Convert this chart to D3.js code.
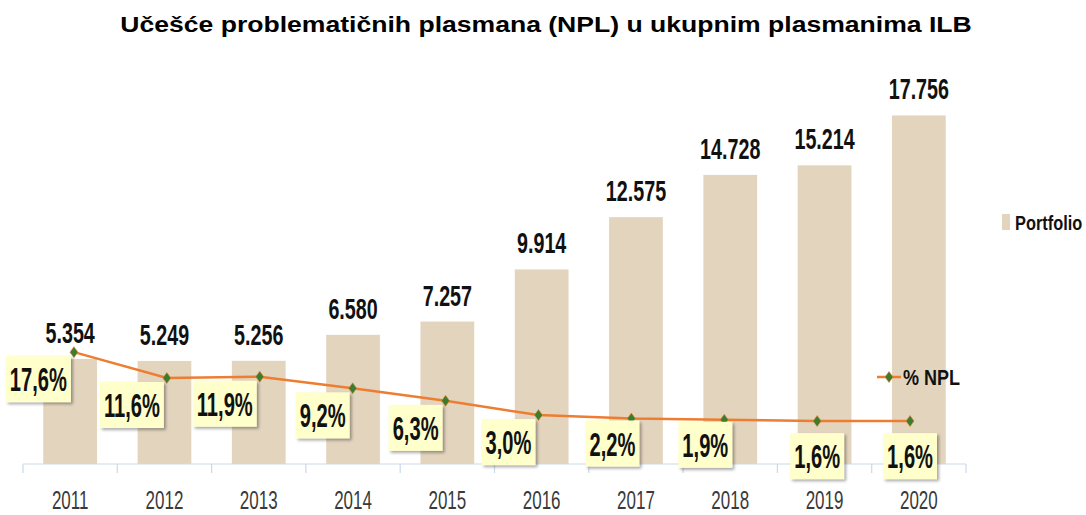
<!DOCTYPE html>
<html>
<head>
<meta charset="utf-8">
<script src="https://cdn.jsdelivr.net/npm/d3@7"></script>
<style>
  body { margin: 0; background: #fff; }
  text { font-family: "Liberation Sans", Arial, sans-serif; }
</style>
</head>
<body>
<div id="chart"></div>
<script>
// Chart data
const years = ["2011", "2012", "2013", "2014", "2015", "2016", "2017", "2018", "2019", "2020"];
const portfolio = [5354, 5249, 5256, 6580, 7257, 9914, 12575, 14728, 15214, 17756];
const nplPct = [17.6, 11.6, 11.9, 9.2, 6.3, 3.0, 2.2, 1.9, 1.6, 1.6];
// where each % label box sits relative to its point
const labelPlacement = ["left", "left", "left", "left", "left", "left", "belowLeft", "belowLeft", "below", "below"];

const width = 1086, height = 515;
const barColor = "#e3d4be", lineColor = "#ed7d31", markerColor = "#3c7d2d";

// Serbian style numbers: 5.354 and 17,6%
const locale = d3.formatLocale({ decimal: ",", thousands: ".", grouping: [3], currency: ["", ""] });
const fmtValue = locale.format(",");
const fmtPct = locale.format(".1f");

const svg = d3.select("#chart")
    .append("svg")
    .attr("width", width)
    .attr("height", height);

const defs = svg.append("defs");
const shadow = defs.append("filter").attr("id", "shadow")
    .attr("x", "-20%").attr("y", "-20%").attr("width", "150%").attr("height", "150%");
shadow.append("feDropShadow")
    .attr("dx", 2).attr("dy", 2).attr("stdDeviation", 1.5)
    .attr("flood-color", "#000").attr("flood-opacity", 0.35);

// draw text squeezed horizontally (the original font is a condensed one)
function condensedText(sel, sx) {
    sel.each(function() {
        const t = d3.select(this);
        const px = +t.attr("data-x"), py = +t.attr("data-y");
        t.attr("transform", `translate(${px},${py}) scale(${sx},1)`);
    });
}

// Title, stretched to the width it has in the original
const title = svg.append("text")
    .attr("text-anchor", "middle")
    .attr("font-size", 22)
    .attr("font-weight", "bold")
    .text("Učešće problematičnih plasmana (NPL) u ukupnim plasmanima ILB");
const titleScale = 852 / title.node().getComputedTextLength();
title.attr("transform", `translate(546,31.5) scale(${titleScale},1)`);

// Scales
const x = d3.scaleBand()
    .domain(years)
    .range([23, 966])
    .paddingInner(0.43)
    .paddingOuter(0.215);

// the % line sits on its own (secondary) axis in the original
const xLine = d3.scaleBand()
    .domain(years)
    .range([27.5, 956.5]);

const y = d3.scaleLinear()
    .domain([0, 20000])
    .range([464, 71.4]);

const yPct = d3.scaleLinear()
    .domain([0, 20])
    .range([428, 341.8]);

const data = years.map((yr, i) => ({
    year: yr,
    value: portfolio[i],
    pct: nplPct[i],
    place: labelPlacement[i]
}));

// Bars
svg.selectAll(".bar")
    .data(data)
    .join("rect")
    .attr("class", "bar")
    .attr("x", d => x(d.year))
    .attr("y", d => y(d.value))
    .attr("width", x.bandwidth())
    .attr("height", d => y(0) - y(d.value))
    .attr("fill", barColor);

// Category axis
const step = x.step();
const axisG = svg.append("g").attr("class", "x-axis");
const edges = years.map(yr => x(yr) - step * x.paddingInner() / 2).concat([x.range()[1]]);
axisG.append("line")
    .attr("x1", x.range()[0]).attr("x2", x.range()[1])
    .attr("y1", y(0)).attr("y2", y(0))
    .attr("stroke", "#cbd9ea").attr("stroke-width", 1.2);
axisG.selectAll(".tick")
    .data(edges)
    .join("line")
    .attr("class", "tick")
    .attr("x1", d => d).attr("x2", d => d)
    .attr("y1", y(0)).attr("y2", y(0) + 9)
    .attr("stroke", "#cbd9ea").attr("stroke-width", 1.2);
axisG.selectAll(".tick-label")
    .data(years)
    .join("text")
    .attr("class", "tick-label")
    .attr("data-x", d => x(d) + x.bandwidth() / 2)
    .attr("data-y", 509)
    .attr("text-anchor", "middle")
    .attr("font-size", 25)
    .attr("fill", "#3a3a3a")
    .text(d => d)
    .call(condensedText, 0.68);

// Value labels above bars
svg.selectAll(".value-label")
    .data(data)
    .join("text")
    .attr("class", "value-label")
    .attr("data-x", d => x(d.year) + x.bandwidth() / 2)
    .attr("data-y", d => y(d.value) - 16)
    .attr("text-anchor", "middle")
    .attr("font-size", 29)
    .attr("font-weight", "bold")
    .attr("fill", "#111")
    .text(d => fmtValue(d.value))
    .call(condensedText, 0.68);

// NPL line
const line = d3.line()
    .x(d => xLine(d.year) + xLine.bandwidth() / 2)
    .y(d => yPct(d.pct));

svg.append("path")
    .datum(data)
    .attr("fill", "none")
    .attr("stroke", lineColor)
    .attr("stroke-width", 2.5)
    .attr("d", line);

const diamond = "M0,-5.5L4,0L0,5.5L-4,0Z";
svg.selectAll(".marker")
    .data(data)
    .join("path")
    .attr("class", "marker")
    .attr("d", diamond)
    .attr("transform", d => `translate(${xLine(d.year) + xLine.bandwidth() / 2},${yPct(d.pct)})`)
    .attr("fill", markerColor)
    .attr("stroke", lineColor)
    .attr("stroke-width", 0.6);

// % labels in yellow boxes
const pctLabels = svg.selectAll(".pct-label")
    .data(data)
    .join("g")
    .attr("class", "pct-label");

pctLabels.each(function(d) {
    const g = d3.select(this);
    const px = xLine(d.year) + xLine.bandwidth() / 2;
    const py = yPct(d.pct);
    const box = g.append("rect").attr("fill", "#ffffcc").attr("filter", "url(#shadow)");
    const txt = g.append("text")
        .attr("font-size", 33)
        .attr("font-weight", "bold")
        .attr("fill", "#111")
        .attr("text-anchor", "middle")
        .text(fmtPct(d.pct) + "%");
    const sx = 0.61;
    const tw = txt.node().getComputedTextLength() * sx;
    const bw = tw + 8, bh = 46;
    let bx, by;
    if (d.place === "left") {
        bx = px - 3 - bw; by = py + 4;
    } else if (d.place === "belowLeft") {
        bx = px + 8 - bw; by = py + 2;
    } else {
        bx = px - bw / 2; by = py + 12;
    }
    box.attr("x", bx).attr("y", by).attr("width", bw).attr("height", bh);
    txt.attr("transform", `translate(${bx + bw / 2},${by + bh / 2 + 12}) scale(${sx},1)`);
});

// Legend
const legend = svg.append("g").attr("class", "legend");
legend.append("rect")
    .attr("x", 1002).attr("y", 214).attr("width", 8).attr("height", 16)
    .attr("fill", barColor);
legend.append("text")
    .attr("data-x", 1015).attr("data-y", 230)
    .attr("font-size", 21).attr("font-weight", "bold").attr("fill", "#111")
    .text("Portfolio")
    .call(condensedText, 0.78);

legend.append("line")
    .attr("x1", 877).attr("x2", 901).attr("y1", 377).attr("y2", 377)
    .attr("stroke", lineColor).attr("stroke-width", 2.5);
legend.append("path")
    .attr("d", diamond)
    .attr("transform", "translate(889,377)")
    .attr("fill", markerColor)
    .attr("stroke", lineColor)
    .attr("stroke-width", 0.6);
legend.append("text")
    .attr("data-x", 903).attr("data-y", 385)
    .attr("font-size", 22).attr("font-weight", "bold").attr("fill", "#111")
    .text("% NPL")
    .call(condensedText, 0.82);
</script>
</body>
</html>
